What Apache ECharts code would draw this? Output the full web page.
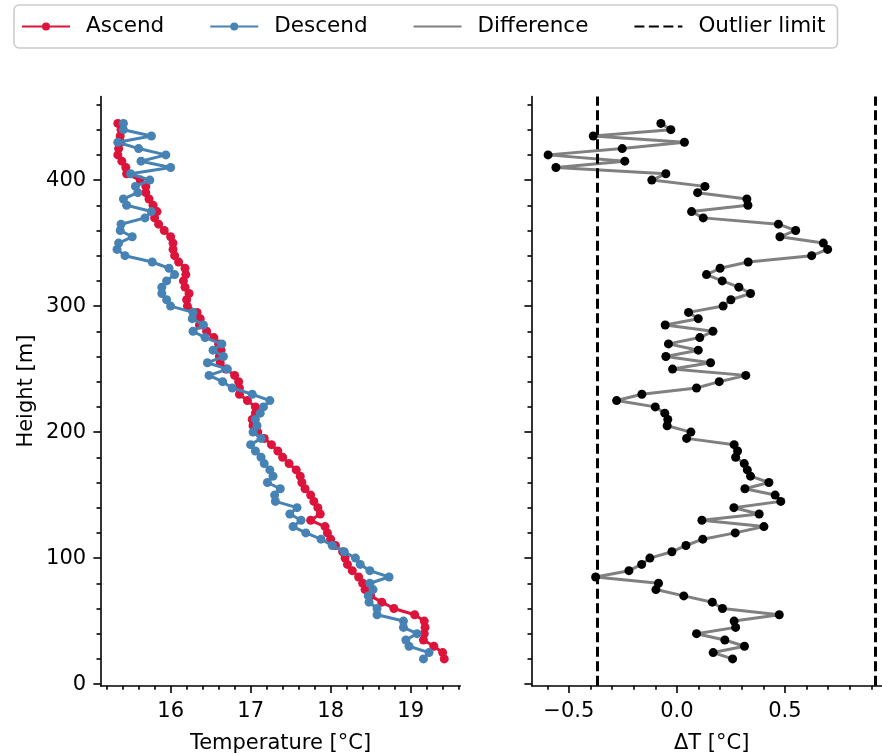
<!DOCTYPE html>
<html>
<head>
<meta charset="utf-8">
<script src="https://cdn.jsdelivr.net/npm/echarts@6/dist/echarts.min.js"></script>
<style>
html,body{margin:0;padding:0;background:#fff;}
#chart{width:882px;height:754px;}
</style>
</head>
<body>
<div id="chart"></div>
<script>
// Heights [m]
const heights = [20,25,30,35,40,45,50,55,60,65,70,75,80,85,90,95,100,105,110,115,120,125,130,135,140,145,150,155,160,165,170,175,180,185,190,195,200,205,210,215,220,225,230,235,240,245,250,255,260,265,270,275,280,285,290,295,300,305,310,315,320,325,330,335,340,345,350,355,360,365,370,375,380,385,390,395,400,405,410,415,420,425,430,435,440,445];
// Ascend temperature [°C]
const ascend = [19.42,19.40,19.29,19.16,19.17,19.18,19.17,19.05,18.79,18.64,18.50,18.43,18.40,18.35,18.27,18.21,18.18,18.15,18.06,18.00,17.96,17.93,17.75,17.87,17.84,17.79,17.75,17.68,17.64,17.62,17.57,17.48,17.40,17.34,17.26,17.17,17.09,17.03,17.02,17.06,17.06,16.96,16.86,16.86,16.85,16.80,16.69,16.62,16.61,16.63,16.60,16.54,16.45,16.36,16.37,16.33,16.21,16.20,16.23,16.18,16.16,16.19,16.18,16.10,16.05,16.03,16.03,16.00,15.92,15.85,15.80,15.83,15.78,15.73,15.69,15.69,15.62,15.45,15.44,15.39,15.34,15.35,15.375,15.37,15.38,15.34];
// Descend temperature [°C]
const descend = [19.16,19.23,18.98,18.94,19.08,18.91,18.91,18.58,18.58,18.48,18.47,18.53,18.49,18.73,18.49,18.37,18.31,18.17,18.02,17.88,17.69,17.53,17.63,17.49,17.58,17.31,17.30,17.37,17.21,17.28,17.24,17.17,17.13,17.06,17.00,17.13,17.03,17.08,17.06,17.12,17.16,17.24,17.02,16.77,16.65,16.48,16.71,16.46,16.66,16.53,16.64,16.43,16.28,16.41,16.27,16.28,16.00,15.95,15.89,15.89,15.95,16.05,15.98,15.77,15.43,15.33,15.35,15.52,15.37,15.38,15.68,15.76,15.45,15.41,15.59,15.56,15.74,15.50,16.00,15.63,15.94,15.60,15.34,15.76,15.41,15.41];
// Difference ΔT [°C]
const deltaT = [0.258,0.168,0.313,0.222,0.091,0.272,0.265,0.474,0.211,0.164,0.032,-0.097,-0.085,-0.376,-0.222,-0.163,-0.125,-0.023,0.042,0.12,0.27,0.403,0.116,0.381,0.264,0.481,0.455,0.315,0.426,0.341,0.326,0.312,0.272,0.281,0.265,0.045,0.065,-0.045,-0.042,-0.056,-0.1,-0.279,-0.162,0.091,0.196,0.319,-0.02,0.156,-0.051,0.099,-0.039,0.106,0.167,-0.054,0.099,0.054,0.214,0.25,0.341,0.287,0.21,0.137,0.2,0.33,0.624,0.698,0.678,0.477,0.55,0.47,0.122,0.068,0.329,0.324,0.096,0.13,-0.116,-0.051,-0.56,-0.241,-0.596,-0.253,0.035,-0.387,-0.028,-0.074];
// Outlier limits [°C]
const outlierLimits = [-0.374, 0.918];

// Tick values
const heightTicks = [0,100,200,300,400];
const heightMinorTicks = [20,40,60,80,120,140,160,180,220,240,260,280,320,340,360,380,420,440,460];
const tempTicks = [16,17,18,19];
const tempMinorTicks = [15.2,15.4,15.6,15.8,16.2,16.4,16.6,16.8,17.2,17.4,17.6,17.8,18.2,18.4,18.6,18.8,19.2,19.4,19.6];
const dTicks = [-0.5,0,0.5];
const dMinorTicks = [-0.6,-0.4,-0.3,-0.2,-0.1,0.1,0.2,0.3,0.4,0.6,0.7,0.8,0.9];

const FONT = 'DejaVu Sans';
const FS = 21;
const LW = 1.6;
const SERIES_LW = 3;
const SYM = 9;

function majorAxis(extra) {
  return Object.assign({
    type: 'value',
    axisLine: { show: true, onZero: false, lineStyle: { color: '#000', width: LW } },
    splitLine: { show: false },
    axisTick: { show: true, length: 7.3, lineStyle: { color: '#000', width: LW } },
    axisLabel: { show: true, color: '#000', fontFamily: FONT, fontSize: FS },
    nameTextStyle: { color: '#000', fontFamily: FONT, fontSize: FS }
  }, extra);
}
function minorAxis(extra) {
  return Object.assign({
    type: 'value',
    offset: 0,
    axisLine: { show: false, onZero: false },
    splitLine: { show: false },
    axisTick: { show: true, length: 4.2, lineStyle: { color: '#000', width: LW } },
    axisLabel: { show: false }
  }, extra);
}

const yMin = -1.25, yMax = 466.25;
const tMin = 15.126, tMax = 19.6205;
const dMin = -0.672, dMax = 0.994;

const fmtD = v => (v < 0 ? '\u2212' : '') + Math.abs(v).toFixed(1);

const option = {
  animation: false,
  backgroundColor: '#fff',
  legend: {
    data: [
      { name: 'Ascend' },
      { name: 'Descend' },
      { name: 'Difference', itemStyle: { opacity: 0 } },
      { name: 'Outlier limit', itemStyle: { opacity: 0 } }
    ],
    left: 14, top: 5,
    itemWidth: 48, itemHeight: 10, itemGap: 45,
    padding: [10.5, 12, 10.5, 7],
    borderColor: '#cccccc', borderWidth: 1.6, borderRadius: 5,
    backgroundColor: '#fff',
    textStyle: { color: '#000', fontFamily: FONT, fontSize: 21.5, padding: [0, 0, 0, 11] }
  },
  grid: [
    { left: 100.7, top: 96.6, width: 359.6, height: 589.05, containLabel: false, outerBoundsMode: 'none' },
    { left: 531.7, top: 96.6, width: 359.9, height: 589.05, containLabel: false, outerBoundsMode: 'none' }
  ],
  xAxis: [
    majorAxis({ gridIndex: 0, position: 'bottom', min: tMin, max: tMax,
      axisTick: { show: true, length: 7.3, customValues: tempTicks, lineStyle: { color: '#000', width: LW } },
      axisLabel: { show: true, color: '#000', fontFamily: FONT, fontSize: FS, margin: 15.5, customValues: tempTicks, formatter: v => String(v) },
      name: 'Temperature [\u00b0C]', nameLocation: 'middle', nameGap: 47 }),
    minorAxis({ gridIndex: 0, position: 'bottom', min: tMin, max: tMax,
      axisTick: { show: true, length: 4.2, customValues: tempMinorTicks, lineStyle: { color: '#000', width: LW } } }),
    majorAxis({ gridIndex: 1, position: 'bottom', min: dMin, max: dMax,
      axisTick: { show: true, length: 7.3, customValues: dTicks, lineStyle: { color: '#000', width: LW } },
      axisLabel: { show: true, color: '#000', fontFamily: FONT, fontSize: FS, margin: 15.5, customValues: dTicks, formatter: fmtD },
      name: '\u0394T [\u00b0C]', nameLocation: 'middle', nameGap: 47 }),
    minorAxis({ gridIndex: 1, position: 'bottom', min: dMin, max: dMax,
      axisTick: { show: true, length: 4.2, customValues: dMinorTicks, lineStyle: { color: '#000', width: LW } } })
  ],
  yAxis: [
    majorAxis({ gridIndex: 0, position: 'left', min: yMin, max: yMax,
      axisTick: { show: true, length: 7.3, customValues: heightTicks, lineStyle: { color: '#000', width: LW } },
      axisLabel: { show: true, color: '#000', fontFamily: FONT, fontSize: FS, margin: 14.6, customValues: heightTicks },
      name: 'Height [m]', nameLocation: 'middle', nameGap: 64 }),
    minorAxis({ gridIndex: 0, position: 'left', min: yMin, max: yMax,
      axisTick: { show: true, length: 4.2, customValues: heightMinorTicks, lineStyle: { color: '#000', width: LW } } }),
    majorAxis({ gridIndex: 1, position: 'left', min: yMin, max: yMax,
      axisTick: { show: true, length: 7.3, customValues: heightTicks, lineStyle: { color: '#000', width: LW } },
      axisLabel: { show: false } }),
    minorAxis({ gridIndex: 1, position: 'left', min: yMin, max: yMax,
      axisTick: { show: true, length: 4.2, customValues: heightMinorTicks, lineStyle: { color: '#000', width: LW } } })
  ],
  series: [
    {
      name: 'Ascend', type: 'line', xAxisIndex: 0, yAxisIndex: 0,
      data: heights.map((h, i) => [ascend[i], h]),
      color: '#dc143c',
      lineStyle: { color: '#dc143c', width: SERIES_LW },
      itemStyle: { color: '#dc143c', opacity: 1 },
      symbol: 'circle', symbolSize: SYM, showSymbol: true, z: 2
    },
    {
      name: 'Descend', type: 'line', xAxisIndex: 0, yAxisIndex: 0,
      data: heights.map((h, i) => [descend[i], h]),
      color: '#4682b4',
      lineStyle: { color: '#4682b4', width: SERIES_LW },
      itemStyle: { color: '#4682b4', opacity: 1 },
      symbol: 'circle', symbolSize: SYM, showSymbol: true, z: 3
    },
    {
      name: 'Difference', type: 'line', xAxisIndex: 2, yAxisIndex: 2,
      data: heights.map((h, i) => [deltaT[i], h]),
      color: '#808080',
      lineStyle: { color: '#808080', width: SERIES_LW },
      itemStyle: { color: '#808080' },
      symbol: 'none', z: 2
    },
    {
      name: 'DifferencePoints', type: 'scatter', xAxisIndex: 2, yAxisIndex: 2,
      data: heights.map((h, i) => [deltaT[i], h]),
      itemStyle: { color: '#000', opacity: 1 },
      symbol: 'circle', symbolSize: SYM, z: 4
    },
    {
      name: 'Outlier limit', type: 'line', xAxisIndex: 2, yAxisIndex: 2,
      data: [],
      color: '#000',
      lineStyle: { color: '#000', width: 3, type: [10, 4.5] },
      itemStyle: { color: '#000' },
      symbol: 'none',
      markLine: {
        silent: true, symbol: ['none', 'none'],
        label: { show: false },
        lineStyle: { color: '#000', width: 3, type: [10, 4.5] },
        data: outlierLimits.map(v => ({ xAxis: v }))
      }
    }
  ]
};

const chart = echarts.init(document.getElementById('chart'), null, { renderer: 'canvas' });
chart.setOption(option);
</script>
</body>
</html>
